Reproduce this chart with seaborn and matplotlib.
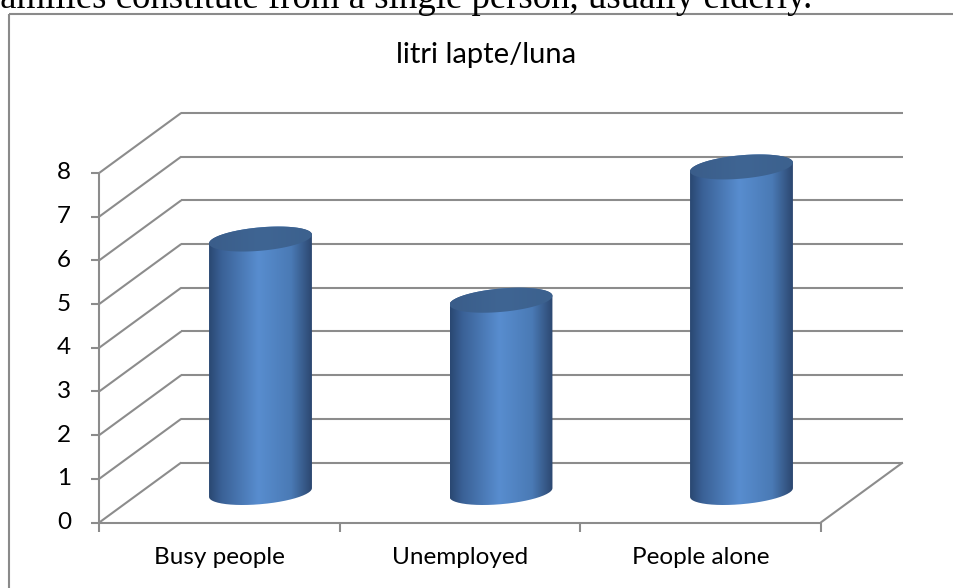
import numpy as np
import pandas as pd
import matplotlib
matplotlib.use("Agg")
import matplotlib.pyplot as plt
import seaborn as sns
from matplotlib.path import Path
from matplotlib.patches import PathPatch, Polygon
from matplotlib.colors import LinearSegmentedColormap

# ---- data -------------------------------------------------------------
categories = ["Busy people", "Unemployed", "People alone"]
liters = [5.8, 4.4, 7.45]
y_ticks = [0, 1, 2, 3, 4, 5, 6, 7, 8]
chart_title = "litri lapte/luna"
header_line = "families constitute from a single person, usually elderly."

# ---- canvas -----------------------------------------------------------
W, H, DPI = 954, 588, 100
sns.set_theme(style="white")
plt.rcParams["font.family"] = ["Lato", "DejaVu Sans"]

fig = plt.figure(figsize=(W / DPI, H / DPI), dpi=DPI)
fig.patch.set_facecolor("white")
ax = fig.add_axes([0, 0, 1, 1])

# pixel scale of the plane the cylinders stand in (mid depth)
PX_X = 240.5      # pixels per category step
PX_Y = 43.7       # pixels per value unit
X0 = 260.5        # pixel column of the first category centre
Y0 = 492.5        # pixel row of value 0

df = pd.DataFrame({"category": categories, "liters": liters})
body_w_px = 103.0
sns.barplot(data=df, x="category", y="liters", ax=ax, width=body_w_px / PX_X,
            color="#4f81bd", saturation=1, zorder=3)

ax.set_xlim(-X0 / PX_X, (W - X0) / PX_X)
ax.set_ylim((Y0 - H) / PX_Y, Y0 / PX_Y)
ax.set_axis_off()

def dx(p):
    return p / PX_X

def dy(p):
    return p / PX_Y

# half the depth of the box, front -> mid -> back
DDX, DDY = dx(41), dy(30)
left, right = -0.5, len(categories) - 0.5
grid_kw = dict(color="#8c8c8c", lw=1.5, solid_capstyle="butt", zorder=1)

# back wall and side wall gridlines
for v in y_ticks:
    ax.plot([left + DDX, right + DDX], [v + DDY, v + DDY], **grid_kw)
    ax.plot([left - DDX, left + DDX], [v - DDY, v + DDY], **grid_kw)
# floor edges
ax.plot([left - DDX, right - DDX], [-DDY, -DDY], **grid_kw)
ax.plot([right - DDX, right + DDX], [-DDY, DDY], **grid_kw)

# value axis with ticks and labels on the front plane
ax.plot([left - DDX] * 2, [-DDY, y_ticks[-1] - DDY], **grid_kw)
for v in y_ticks:
    ax.plot([left - DDX - dx(8), left - DDX], [v - DDY] * 2, **grid_kw)
    ax.text(left - DDX - dx(28), v - DDY, str(v), ha="right", va="center",
            fontsize=17.5, color="black")

# category ticks and labels
for i in range(len(categories) + 1):
    xb = i - 0.5 - DDX
    ax.plot([xb, xb], [-DDY, -DDY - dy(9)], **grid_kw)
for i, name in enumerate(categories):
    ax.text(i - DDX, dy(Y0 - 558), name, ha="center", va="center",
            fontsize=17.5, color="black")

# ---- cylinders --------------------------------------------------------
A_PX, S_PX, V_PX = 48.2, 18.0, 12.5        # ellipse: half width, depth shear, depth rise
R_PX = np.hypot(A_PX, S_PX)
TH_T = np.arctan2(S_PX, A_PX)

def ellipse_pts(cx, cy, t):
    return np.column_stack([cx + dx(A_PX * np.cos(t) + S_PX * np.sin(t)),
                            cy + dy(V_PX * np.sin(t))])

body_cmap = LinearSegmentedColormap.from_list(
    "body", [(0.0, "#2a4872"), (0.12, "#3a6196"), (0.48, "#588dcf"),
             (0.8, "#4a7ab5"), (1.0, "#2c4770")])
top_cmap = LinearSegmentedColormap.from_list(
    "top", [(0.0, "#3a5d8a"), (0.5, "#3f6593"), (1.0, "#3c618e")])

grad = np.linspace(0, 1, 256).reshape(1, -1)
for bar in list(ax.patches):
    cx = bar.get_x() + bar.get_width() / 2
    top = bar.get_y() + bar.get_height()
    base = bar.get_y()
    bar.set_visible(False)

    lower = ellipse_pts(cx, base, np.linspace(np.pi + TH_T, 2 * np.pi + TH_T, 80))
    upper = ellipse_pts(cx, top, np.linspace(TH_T, np.pi + TH_T, 80))
    outline = np.vstack([lower, upper, lower[:1]])
    clip = PathPatch(Path(outline), transform=ax.transData, facecolor="none",
                     edgecolor="none")
    ax.add_patch(clip)
    img = ax.imshow(grad, cmap=body_cmap, aspect="auto", interpolation="bilinear",
                    extent=[cx - dx(R_PX), cx + dx(R_PX), base - dy(20), top + dy(20)],
                    zorder=3)
    img.set_clip_path(clip)

    cap = ellipse_pts(cx, top, np.linspace(0, 2 * np.pi, 120))
    cap_patch = Polygon(cap, closed=True, facecolor="none", edgecolor="none")
    ax.add_patch(cap_patch)
    cap_img = ax.imshow(grad, cmap=top_cmap, aspect="auto", interpolation="bilinear",
                        extent=[cx - dx(R_PX), cx + dx(R_PX), top - dy(14), top + dy(14)],
                        zorder=4)
    cap_img.set_clip_path(cap_patch)

ax.set_xlim(-X0 / PX_X, (W - X0) / PX_X)
ax.set_ylim((Y0 - H) / PX_Y, Y0 / PX_Y)

# ---- title, frame and running text -----------------------------------
fig.text(486 / W, 1 - 63 / H, chart_title, ha="center", va="baseline",
         fontsize=21, color="black")

frame_kw = dict(color="#8a8a8a", lw=1.5, solid_capstyle="butt")
fig.add_artist(plt.Line2D([9 / W, 9 / W], [0, 1 - 14 / H], transform=fig.transFigure, **frame_kw))
fig.add_artist(plt.Line2D([9 / W, 1], [1 - 14 / H, 1 - 14 / H], transform=fig.transFigure, **frame_kw))

fig.text(-12 / W, 1 - 8 / H, header_line, ha="left", va="baseline",
         fontsize=26.5, family=["Liberation Serif", "DejaVu Serif"], color="black")

fig.savefig("out.png", dpi=DPI, facecolor="white")
